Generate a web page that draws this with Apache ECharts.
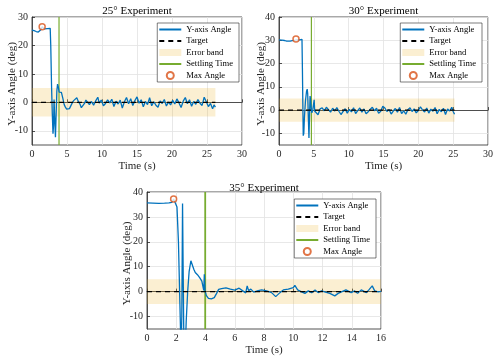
<!DOCTYPE html>
<html>
<head>
<meta charset="utf-8">
<title>Y-axis angle experiments</title>
<script src="https://cdn.jsdelivr.net/npm/echarts@6.0.0/dist/echarts.min.js"></script>
<style>
    html, body { margin: 0; padding: 0; background: #fff; }
    #main { width: 500px; height: 361px; }
</style>
</head>
<body>
<div id="main"></div>
<script>
    // titles and legend names
    var titles = ['25° Experiment', '30° Experiment', '35° Experiment'];
    var legendNames = ['Y-axis Angle', 'Target', 'Error band', 'Settling Time', 'Max Angle'];

    // measured angle traces, [time s, angle deg]
    var angle25 = [
        [0, 25.4], [0.3, 25.2], [0.6, 24.9], [0.9, 24.7], [1.1, 24.9], [1.3, 25.6], [1.45, 26.6], [1.6, 26.0],
        [1.8, 25.8], [2.0, 26.1], [2.2, 25.9], [2.4, 26.2], [2.6, 26.0], [2.68, 20], [2.8, 5], [2.9, -4],
        [3.0, -11], [3.08, -8], [3.15, 1], [3.25, -6], [3.35, -12.3], [3.45, -4], [3.55, 4], [3.65, 6.4],
        [3.75, 5.5], [3.88, 3.6], [4.05, 4.2], [4.2, 3.5], [4.4, 1.5], [4.6, -0.8], [4.75, -1.6], [4.95, -2.4],
        [5.15, -3.1], [5.35, -2.2], [5.55, -2.4], [5.75, -0.2], [5.95, 0.6], [6.15, 1.3], [6.4, 1.6], [6.6, 0.4],
        [6.85, -0.6], [7.05, -1.9], [7.3, -2.3], [7.5, -0.4], [7.7, 0.8], [7.9, 0.3], [8.2, -0.8], [8.5, 0.3],
        [8.8, -1.0], [9.1, 0.5], [9.4, 1.8], [9.6, -0.3], [9.9, 0.8], [10.2, -1.2], [10.5, -0.4], [10.8, 0.9],
        [11.1, -0.2], [11.4, 1.1], [11.7, -1.5], [12.0, 0.4], [12.3, -0.6], [12.6, 0.8], [12.9, -2.0], [13.2, 0.2],
        [13.5, 1.7], [13.8, -0.5], [14.1, 1.3], [14.4, -1.1], [14.7, 0.6], [15.0, 1.9], [15.3, -0.3], [15.6, 0.9],
        [15.9, -1.6], [16.2, 0.3], [16.5, -0.8], [16.8, 1.6], [17.1, -1.2], [17.4, 0.2], [17.7, -1.0], [18.0, -1.7],
        [18.3, 0.5], [18.6, -0.4], [18.9, 1.0], [19.2, -1.3], [19.5, 0.1], [19.8, -0.9], [20.1, 0.7], [20.4, -0.6],
        [20.7, 1.2], [21.0, -0.2], [21.3, -1.8], [21.6, 0.4], [21.9, 1.7], [22.2, -0.5], [22.5, 0.9], [22.8, -1.4],
        [23.1, 0.3], [23.4, -0.7], [23.7, 1.0], [24.0, -0.3], [24.3, -1.1], [24.6, 1.8], [24.9, 0.2], [25.2, -1.5],
        [25.5, -0.4], [25.8, -2.3], [26.0, -0.9], [26.2, -1.7]
    ];
    var angle30 = [
        [0, 30.2], [0.4, 30.1], [0.8, 29.9], [1.1, 29.6], [1.35, 29.1], [1.6, 29.6], [1.9, 29.8], [2.2, 30.0],
        [2.44, 30.5], [2.7, 30.3], [3.0, 30.2], [3.3, 30.4], [3.36, 18], [3.42, 3], [3.48, -11], [3.56, -10],
        [3.65, -3], [3.8, 4], [3.95, 8], [4.05, 9], [4.12, 7], [4.2, -2], [4.3, -12], [4.38, -3],
        [4.46, 6], [4.55, 4], [4.62, 0.5], [4.72, -1.2], [4.85, 0.2], [4.98, -0.5], [5.05, 4.4], [5.12, -0.4],
        [5.2, -1.0], [5.3, -1.2], [5.6, -2.0], [5.9, 0.5], [6.2, 1.0], [6.5, -0.3], [6.8, 1.2], [7.1, 0.2],
        [7.4, -0.9], [7.7, 0.8], [8.0, -0.4], [8.3, 1.1], [8.6, -0.5], [8.9, -1.9], [9.2, -0.6], [9.5, 0.6],
        [9.8, -1.3], [10.1, 0.3], [10.4, -0.8], [10.7, 1.0], [11.0, -1.5], [11.3, -0.2], [11.6, 0.9], [11.9, -0.9],
        [12.2, 0.5], [12.5, -1.6], [12.8, -0.7], [13.1, 0.4], [13.4, 1.2], [13.7, -0.3], [14.0, 0.8], [14.3, -1.4],
        [14.6, -0.5], [14.9, 1.6], [15.2, 0.9], [15.5, -0.6], [15.8, 0.3], [16.1, -1.7], [16.4, -0.4], [16.7, 0.7],
        [17.0, -0.9], [17.3, 1.1], [17.6, -1.5], [17.9, -0.3], [18.2, -1.8], [18.5, 0.2], [18.8, 1.0], [19.1, -0.6],
        [19.4, 0.5], [19.7, -1.2], [20.0, -0.2], [20.3, 1.4], [20.6, 0.1], [20.9, -0.8], [21.2, 0.9], [21.5, -1.3],
        [21.8, 0.4], [22.1, -0.5], [22.4, 1.1], [22.7, -1.6], [23.0, 0.3], [23.3, -0.7], [23.6, 0.8], [23.9, -1.9],
        [24.2, 0.5], [24.5, -0.4], [24.8, 1.2], [25.0, -0.6], [25.2, -1.8]
    ];
    var angle35 = [
        [0, 35.6], [0.4, 35.5], [0.8, 35.4], [1.2, 35.5], [1.5, 35.6], [1.7, 35.8], [1.82, 37.2], [1.95, 36.8],
        [2.05, 34], [2.15, 20], [2.25, -5], [2.33, -25], [2.38, -10], [2.43, 35.4], [2.47, 10], [2.52, -20],
        [2.58, -30], [2.68, -12], [2.78, 0], [2.88, 8], [3.0, 12.4], [3.1, 11.6], [3.2, 9], [3.3, 7.7],
        [3.45, 6.8], [3.6, 5.6], [3.75, 4.2], [3.88, 0.5], [3.92, 7.0], [3.97, 0.5], [4.05, -1.5], [4.2, -2.7],
        [4.4, -2.9], [4.6, -2.4], [4.75, -0.8], [4.9, 0.9], [5.1, 1.2], [5.4, 1.5], [5.7, 1.0], [6.0, 0.6],
        [6.3, 1.4], [6.55, 0.3], [6.75, -0.5], [6.85, 2.3], [6.95, 0.4], [7.1, 1.0], [7.3, -0.2], [7.6, 0.4],
        [7.84, 0.7], [8.18, 0.3], [8.52, -0.4], [8.8, -2.0], [9.09, -0.4], [9.32, 0.7], [9.66, 1.0], [10.0, 1.6],
        [10.11, 2.5], [10.3, 0.7], [10.57, -0.1], [10.8, -0.7], [11.03, 0.3], [11.26, -0.4], [11.49, 0.7], [11.7, -0.4],
        [11.94, 0.3], [12.2, -0.2], [12.5, -0.7], [12.84, -1.7], [13.07, -0.7], [13.3, -0.1], [13.6, 0.7], [13.96, -0.4],
        [14.2, 0.3], [14.4, -0.7], [14.65, 0.7], [15.0, -0.4], [15.2, 0.9], [15.4, 2.3], [15.57, 0.3], [15.8, -0.1],
        [16.0, 0.1]
    ];

    // max angle points, settling times, end of run
    var maxAngles = [[1.45, 26.6], [2.44, 30.6], [1.82, 37.2]];
    var settleTimes = [3.86, 4.65, 3.98];
    var runEnds = [26.2, 25.2, 16];
    var targetAngle = 0;
    var bandHalf = 5;

    // axis ranges and tick labels
    var xMaxs = [30, 30, 16];
    var xSteps = [5, 5, 2];
    var yMins = [-15, -15, -15];
    var yMaxs = [30, 40, 40];
    var yTicks = [
        [-10, 0, 10, 20, 30],
        [-10, 0, 10, 20, 30, 40],
        [-10, 0, 10, 20, 30, 40]
    ];

    var angles = [angle25, angle30, angle35];

    // layout
    var grids = [
        {left: 32, top: 17, width: 210, height: 128},
        {left: 279, top: 17, width: 209, height: 128},
        {left: 147, top: 192, width: 234, height: 137}
    ];
    var titleTops = [6, 6, 183];
    var yNameGaps = [14, 12.5, 14];
    var legendPos = [{right: 261, top: 23}, {right: 18, top: 23}, {right: 124, top: 199}];

    var font = 'Liberation Serif, Times New Roman, serif';
    var ink = '#262626';
    var bandColor = 'rgba(237,177,32,0.2)';

    var option = {
        backgroundColor: '#fff',
        animation: false,
        title: [],
        legend: [],
        grid: [],
        xAxis: [],
        yAxis: [],
        series: []
    };

    for (var i = 0; i < 3; i++) {
        var g = grids[i];
        option.grid.push({
            left: g.left, top: g.top, width: g.width, height: g.height,
            show: true, borderColor: ink, borderWidth: 0.8, backgroundColor: '#fff'
        });
        option.title.push({
            text: titles[i],
            left: g.left + g.width / 2,
            top: titleTops[i],
            textAlign: 'center',
            padding: 0,
            textStyle: {fontFamily: font, fontSize: 11, fontWeight: 'normal', color: '#000'}
        });
        option.xAxis.push({
            type: 'value', gridIndex: i, min: 0, max: xMaxs[i], interval: xSteps[i],
            name: 'Time (s)', nameLocation: 'middle', nameGap: 16, nameMoveOverlap: false,
            nameTextStyle: {fontFamily: font, fontSize: 11, color: ink},
            axisLine: {show: true, lineStyle: {color: ink, width: 0.8}},
            axisTick: {inside: true, length: 3, lineStyle: {color: ink, width: 0.8}},
            axisLabel: {fontFamily: font, fontSize: 10, color: ink, margin: 4},
            splitLine: {show: true, lineStyle: {color: '#e2e2e2', width: 0.8}}
        });
        option.yAxis.push({
            type: 'value', gridIndex: i, min: yMins[i], max: yMaxs[i],
            name: 'Y-axis Angle (deg)', nameLocation: 'middle', nameGap: yNameGaps[i], nameMoveOverlap: false,
            nameTextStyle: {fontFamily: font, fontSize: 11, color: ink, padding: [0, 6, 0, 0]},
            axisLine: {show: true, lineStyle: {color: ink, width: 0.8}},
            axisTick: {inside: true, length: 3, customValues: yTicks[i], lineStyle: {color: ink, width: 0.8}},
            axisLabel: {fontFamily: font, fontSize: 10, color: ink, margin: 4, customValues: yTicks[i]},
            splitLine: {show: true, customValues: yTicks[i], lineStyle: {color: '#e2e2e2', width: 0.8}}
        });

        option.series.push({
            name: 'Error band', type: 'line', xAxisIndex: i, yAxisIndex: i, data: [],
            symbol: 'none', z: 1,
            lineStyle: {color: bandColor},
            markArea: {
                silent: true,
                itemStyle: {color: bandColor},
                data: [[{xAxis: 0, yAxis: targetAngle - bandHalf}, {xAxis: runEnds[i], yAxis: targetAngle + bandHalf}]]
            }
        });
        option.series.push({
            name: 'Y-axis Angle', type: 'line', xAxisIndex: i, yAxisIndex: i, data: angles[i],
            symbol: 'none', z: 3,
            lineStyle: {color: '#0072BD', width: 1.3},
            itemStyle: {color: '#0072BD'}
        });
        option.series.push({
            name: 'Target', type: 'line', xAxisIndex: i, yAxisIndex: i,
            data: [[0, targetAngle], [runEnds[i], targetAngle]],
            symbol: 'none', z: 4,
            lineStyle: {color: '#000', width: 1.1, type: [5, 4]},
            itemStyle: {color: '#000'}
        });
        option.series.push({
            name: 'Settling Time', type: 'line', xAxisIndex: i, yAxisIndex: i,
            data: [[settleTimes[i], yMins[i]], [settleTimes[i], yMaxs[i]]],
            symbol: 'none', z: 2,
            lineStyle: {color: '#77AC30', width: i === 2 ? 1.8 : 1.2},
            itemStyle: {color: '#77AC30'}
        });
        option.series.push({
            name: 'Max Angle', type: 'scatter', xAxisIndex: i, yAxisIndex: i,
            data: [maxAngles[i]], symbol: 'circle', symbolSize: 6, z: 5,
            itemStyle: {color: '#fff', borderColor: '#D95319', borderWidth: 1.5}
        });

        // line items hide their symbol in the legend, only the stroke is kept
        var hideDot = {opacity: 0};
        option.legend.push({
            orient: 'vertical',
            right: legendPos[i].right,
            top: legendPos[i].top,
            selectedMode: false,
            itemWidth: 22,
            itemHeight: 7,
            itemGap: 2.5,
            padding: [2, 6, 2, 1],
            backgroundColor: '#fff',
            borderColor: ink,
            borderWidth: 0.6,
            textStyle: {fontFamily: font, fontSize: 8.6, color: '#000'},
            data: [
                {name: legendNames[0], itemStyle: hideDot},
                {name: legendNames[1], itemStyle: hideDot},
                {name: legendNames[2], icon: 'rect', itemStyle: {color: bandColor}},
                {name: legendNames[3], itemStyle: hideDot},
                {name: legendNames[4]}
            ]
        });
    }

    var myChart = echarts.init(document.getElementById('main'), null, {renderer: 'canvas'});
    myChart.setOption(option);
</script>
</body>
</html>
